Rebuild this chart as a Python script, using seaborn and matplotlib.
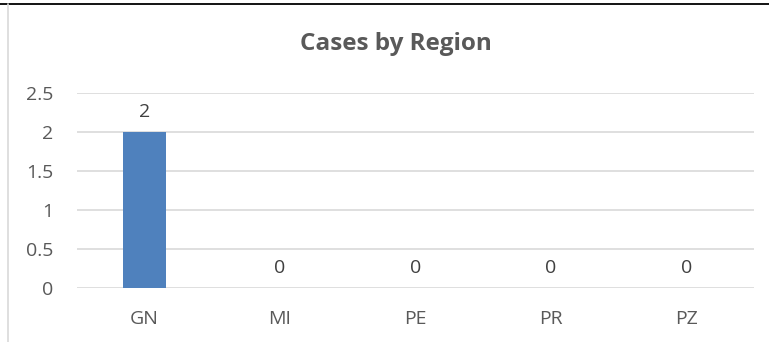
import matplotlib
matplotlib.use("Agg")
import matplotlib.pyplot as plt
from matplotlib.lines import Line2D
import seaborn as sns
import pandas as pd

# chart data
regions = ["GN", "MI", "PE", "PR", "PZ"]
cases = [2, 0, 0, 0, 0]
y_ticks = [0, 0.5, 1, 1.5, 2, 2.5]
y_tick_labels = ["0", "0.5", "1", "1.5", "2", "2.5"]

df = pd.DataFrame({"region": regions, "cases": cases})

sns.set_style("white")
plt.rcParams["font.family"] = ["Open Sans", "DejaVu Sans"]

text_col = "#595959"
fig = plt.figure(figsize=(7.69, 3.42), dpi=100)
ax = fig.add_axes([0.1001, 0.1579, 0.8804, 0.5701])

sns.barplot(data=df, x="region", y="cases", color="#4f81bd", saturation=1,
            width=0.32, linewidth=0, ax=ax, zorder=3)

ax.set_ylim(0, 2.5)
ax.set_yticks(y_ticks)
ax.set_yticklabels(y_tick_labels)
ax.yaxis.grid(True, color="#d9d9d9", linewidth=1.2, zorder=0)
ax.set_axisbelow(True)
for s in ax.spines.values():
    s.set_visible(False)
ax.tick_params(axis="both", length=0, labelsize=14, colors=text_col)
ax.tick_params(axis="y", pad=17)
ax.tick_params(axis="x", pad=16)
ax.set_xlabel("")
ax.set_ylabel("")

# data labels
for c in ax.containers:
    ax.bar_label(c, labels=[str(v) for v in cases], padding=8,
                 fontsize=14, color="#404040")

fig.text(0.515, 0.87, "Cases by Region", ha="center", va="center",
         fontsize=17.5, fontweight="bold", color=text_col)

# chart frame remnants
fig.add_artist(Line2D([0, 1], [1 - 3.5 / 342, 1 - 3.5 / 342], color="black",
                      linewidth=1.3, transform=fig.transFigure))
fig.add_artist(Line2D([7.5 / 769, 7.5 / 769], [0, 1 - 4 / 342], color="#d9d9d9",
                      linewidth=1.2, transform=fig.transFigure))

fig.savefig("out.png", dpi=100)
